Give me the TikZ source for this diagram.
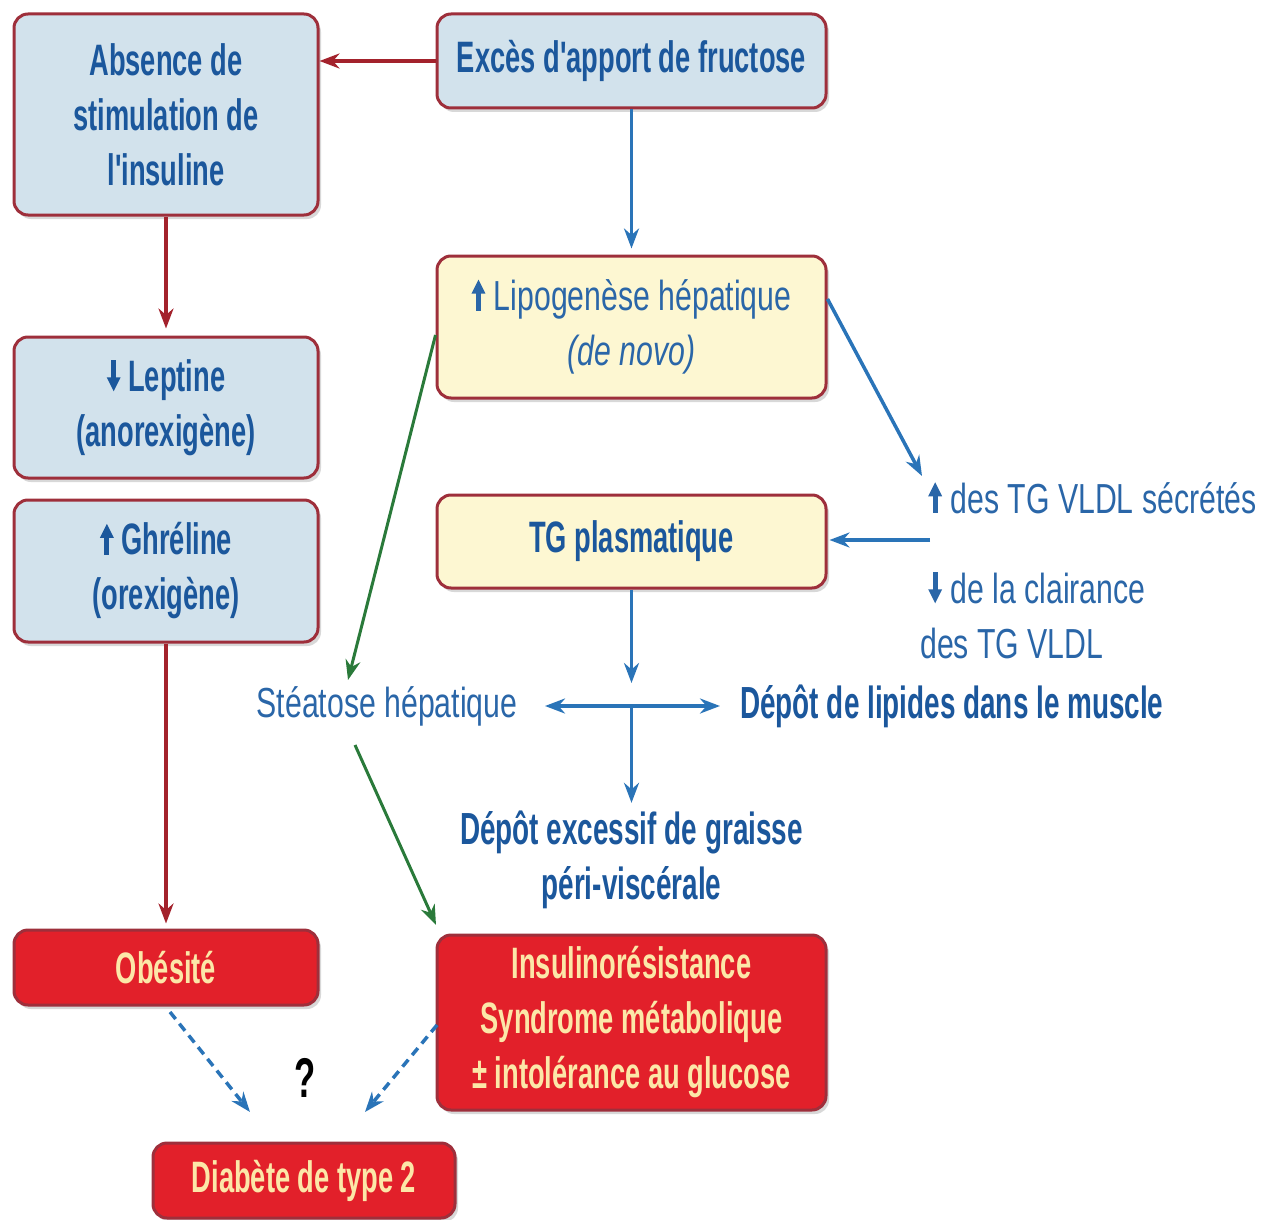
\documentclass[tikz,border=0pt]{standalone}
\usepackage{fontspec}
\setmainfont{Liberation Sans}
\newfontfamily\cndb[FakeStretch=0.62]{Liberation Sans}
\newfontfamily\cndr[FakeStretch=0.72]{Liberation Sans}
\usetikzlibrary{arrows.meta,shadows}
\definecolor{boxblue}{HTML}{D2E2EC}
\definecolor{boxyel}{HTML}{FDF7D2}
\definecolor{boxred}{HTML}{E2202A}
\definecolor{edgecol}{HTML}{9E2F3B}
\definecolor{txtblue}{HTML}{1B579C}
\definecolor{txtblue2}{HTML}{2A66A8}
\definecolor{arrblue}{HTML}{2A74B8}
\definecolor{arrred}{HTML}{A3222C}
\definecolor{arrgreen}{HTML}{2A7A3A}
\definecolor{txtyel}{HTML}{FCE7A8}
\newcommand\myup{\tikz[baseline=0pt,x=1pt,y=1pt,sharp corners]{\fill (-2.4,0) rectangle (2.4,20); \fill (-7,17) -- (7,17) -- (0,31) -- cycle;}}
\newcommand\mydown{\tikz[baseline=0pt,x=1pt,y=1pt,sharp corners]{\fill (-2.4,31) rectangle (2.4,11); \fill (-7,14) -- (7,14) -- (0,0) -- cycle;}}
\begin{document}
\begin{tikzpicture}[x=1pt,y=-1pt,
  box/.style={draw=edgecol, line width=3pt, rounded corners=14pt,
    drop shadow={shadow xshift=3pt,shadow yshift=-4pt,fill=black!30},
    align=center, inner sep=0pt, text=txtblue,
    font=\cndb\bfseries\fontsize{44}{55}\selectfont},
  bbox/.style={box, fill=boxblue},
  ybox/.style={box, fill=boxyel},
  rbox/.style={box, fill=boxred, text=txtyel},
  lblr/.style={inner sep=0pt, text=txtblue2, font=\cndr\fontsize{42}{55}\selectfont},
  lblb/.style={inner sep=0pt, text=txtblue, align=center, font=\cndb\bfseries\fontsize{45}{55}\selectfont},
  tip/.style={-{Stealth[length=20pt,width=15pt]}},
  rarr/.style={tip, draw=arrred, line width=3.5pt},
  barr/.style={tip, draw=arrblue, line width=3.5pt},
  garr/.style={tip, draw=arrgreen, line width=3pt},
  darr/.style={tip, draw=arrblue, line width=3.5pt, dash pattern=on 9pt off 6pt}
]
\useasboundingbox (0,0) rectangle (1263,1220);

% boxes
\node[bbox, minimum width=304pt, minimum height=201pt] (abs) at (166,114.5)
  {Absence de\\stimulation de\\l'insuline};
\node[bbox, minimum width=389pt, minimum height=94pt] (exc) at (631.5,61)
  {Excès d'apport de fructose};
\node[ybox, minimum width=389pt, minimum height=142pt,
  font=\cndr\fontsize{42}{55}\selectfont, text=txtblue2] (lip) at (631.5,327)
  {\myup\ Lipogenèse hépatique\\\textit{(de novo)}};
\node[bbox, minimum width=304pt, minimum height=141pt] (lep) at (166,407.5)
  {\mydown\ Leptine\\(anorexigène)};
\node[bbox, minimum width=304pt, minimum height=142pt] (ghr) at (166,571)
  {\myup\ Ghréline\\(orexigène)};
\node[ybox, minimum width=389pt, minimum height=93pt] (tg) at (631.5,541.5)
  {TG plasmatique};
\node[rbox, minimum width=304pt, minimum height=75pt] (obe) at (166,967.5)
  {Obésité};
\node[rbox, minimum width=389pt, minimum height=175pt] (ins) at (631.5,1022.5)
  {Insulinorésistance\\Syndrome métabolique\\± intolérance au glucose};
\node[rbox, minimum width=302pt, minimum height=75pt] (dia) at (304,1180.5)
  {Diabète de type 2};

% free labels
\node[lblr, anchor=west] (vlup) at (928,498) {\myup\ des TG VLDL sécrétés};
\node[lblr, anchor=west] (vld1) at (928,588) {\mydown\ de la clairance};
\node[lblr, anchor=west] (vld2) at (920,643) {des TG VLDL};
\node[lblr] (stea) at (387,706) {Stéatose hépatique};
\node[lblb, anchor=west] (dlm) at (740,706) {Dépôt de lipides dans le muscle};
\node[lblb] (dep) at (631.5,860) {Dépôt excessif de graisse\\péri-viscérale};
\node[inner sep=0pt, font=\cndb\bfseries\fontsize{56}{60}\selectfont] (q) at (305,1078) {?};

% coordinates
\coordinate (vltip) at (922,476);
\coordinate (vlsrc) at (930,540);
\coordinate (tgend) at (631.5,683);
\coordinate (hub) at (631.5,706);
\coordinate (hl) at (545,706);
\coordinate (hr) at (720,706);
\coordinate (g1end) at (348,680);
\coordinate (g2start) at (355,745);
\coordinate (g2end) at (436,925);
\coordinate (d1s) at (170,1012);
\coordinate (d1e) at (250,1112);
\coordinate (d2s) at (437,1025);
\coordinate (d2e) at (365,1112);

% red arrows
\draw[rarr] (exc.west) -- (exc.west -| abs.east);
\draw[rarr, shorten >=7pt] (abs.south) -- (lep.north);
\draw[rarr, shorten >=5pt] (ghr.south) -- (obe.north);

% blue arrows
\draw[barr, shorten >=6pt] (exc.south) -- (lip.north);
\draw[barr] ([yshift=28pt]lip.east) -- (vltip);
\draw[barr, shorten >=2pt] (vlsrc) -- (vlsrc -| tg.east);
\draw[barr] (tg.south) -- (tgend);
\draw[line width=3.5pt, draw=arrblue, {Stealth[length=20pt,width=15pt]}-{Stealth[length=20pt,width=15pt]}] (hl) -- (hr);
\draw[barr, shorten >=8pt] (hub) -- (dep.north);

% green arrows
\draw[garr] ([yshift=-8pt]lip.west) -- (g1end);
\draw[garr] (g2start) -- (g2end);

% dashed arrows
\draw[darr] (d1s) -- (d1e);
\draw[darr] (d2s) -- (d2e);
\end{tikzpicture}
\end{document}
